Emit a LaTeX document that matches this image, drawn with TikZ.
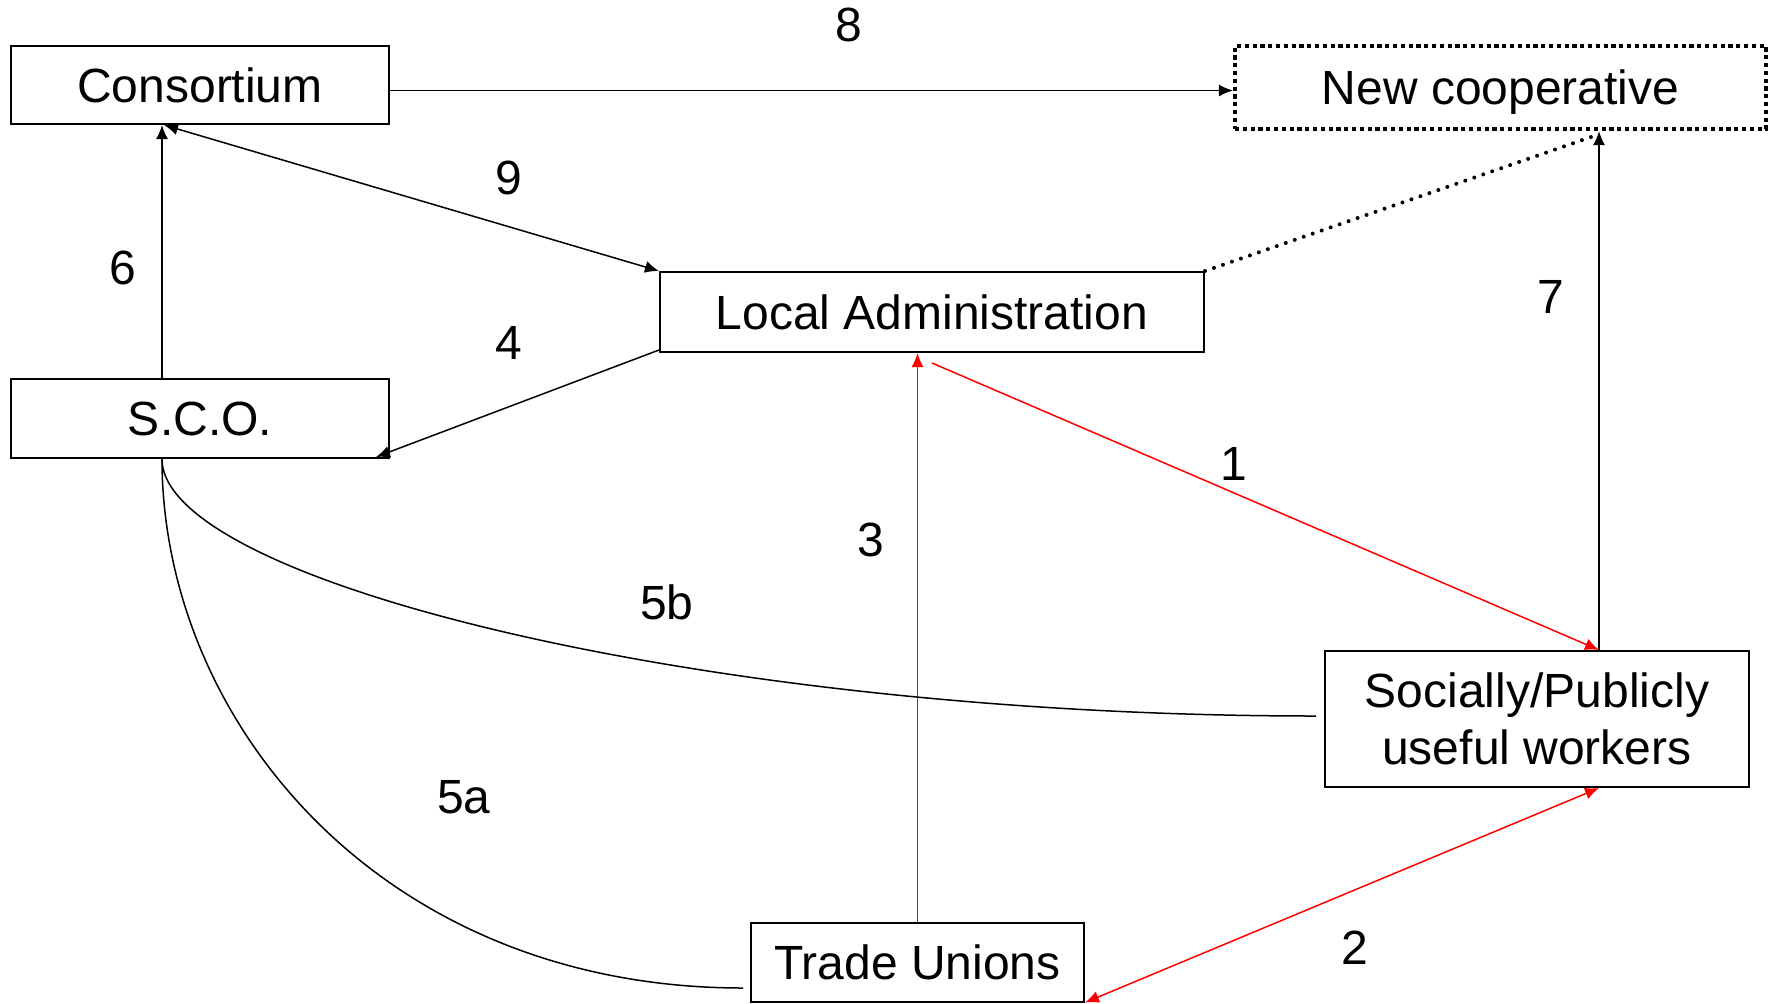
\documentclass[tikz,border=0pt]{standalone}
\usepackage{fontspec}
\setmainfont{Liberation Sans}
\usetikzlibrary{arrows.meta,calc}
\begin{document}
\begin{tikzpicture}[x=0.5pt,y=-0.5pt,
  box/.style={draw,line width=1pt,inner sep=0pt,align=center,font=\fontsize{24}{28.8}\selectfont},
  onebox/.style={box,text height=17.2pt,text depth=0pt},
  dotbox/.style={onebox,line width=2.1pt,dash pattern=on 2.1pt off 1.8pt},
  conn/.style={line width=0.75pt,-{Latex[length=7pt,width=6pt]}},
  dconn/.style={line width=0.75pt,{Latex[length=7pt,width=6pt]}-{Latex[length=7pt,width=6pt]}},
  rconn/.style={conn,red},
  rdconn/.style={dconn,red},
  plain/.style={line width=0.75pt},
  lbl/.style={inner sep=0pt,font=\fontsize{24}{28.8}\selectfont}]
\useasboundingbox (0,0) rectangle (1773,1003);
\node[onebox,minimum width=189pt,minimum height=39pt] (cons) at (200,85) {Consortium};
\node[dotbox,minimum width=265.5pt,minimum height=41.5pt] (newc) at (1500.5,87.5) {New cooperative};
\node[onebox,minimum width=272pt,minimum height=40pt] (local) at (932,312) {Local Administration};
\node[onebox,minimum width=189pt,minimum height=39.5pt] (sco) at (200,418.5) {S.C.O.};
\node[box,minimum width=212pt,minimum height=68pt] (work) at (1537,719) {Socially/Publicly\\useful workers};
\node[onebox,minimum width=166.5pt,minimum height=39.5pt] (tu) at (917.5,962) {Trade Unions};
% connectors
\draw[conn] ([yshift=-2.75pt]cons.east) -- ([yshift=-1.5pt]newc.west);
\draw[dconn] ([xshift=-18pt]cons.south) -- (local.north west);
\draw[conn] ([xshift=-19pt]sco.north) -- ([xshift=-19pt]cons.south);
\draw[conn] ([yshift=1.5pt]local.south west) -- ([xshift=-7pt,yshift=1pt]sco.south east);
\draw[line width=2pt,line cap=round,dash pattern=on 0pt off 4.75pt] (local.north east) -- ([xshift=48pt,yshift=-2pt]newc.south);
\draw[conn] ([xshift=31pt]work.north) -- ([xshift=49.25pt]newc.south);
\draw[rconn] ([yshift=-5pt]local.south) -- ([xshift=31pt]work.north);
\draw[rconn] (tu.north) -- ([xshift=-7.25pt]local.south);
\draw[rdconn] (tu.south east) -- ([xshift=31pt]work.south);
\draw[plain] ([xshift=-19pt]sco.south) .. controls (162,720) and (380,988) .. ([xshift=-3.5pt,yshift=-13pt]tu.west);
\draw[plain] ([xshift=-19pt]sco.south) .. controls (162,580) and (700,716) .. ([xshift=-4pt,yshift=1.5pt]work.west);
% labels
\node[lbl] (l8) at (849,25) {8};
\node[lbl] (l9) at (509,178) {9};
\node[lbl] (l6) at (123,268) {6};
\node[lbl] (l4) at (509,343) {4};
\node[lbl] (l7) at (1551,297) {7};
\node[lbl] (l1) at (1234,464) {1};
\node[lbl] (l3) at (871,540) {3};
\node[lbl] (l5b) at (667,602) {5b};
\node[lbl] (l5a) at (464,797) {5a};
\node[lbl] (l2) at (1355,948) {2};
\end{tikzpicture}
\end{document}
